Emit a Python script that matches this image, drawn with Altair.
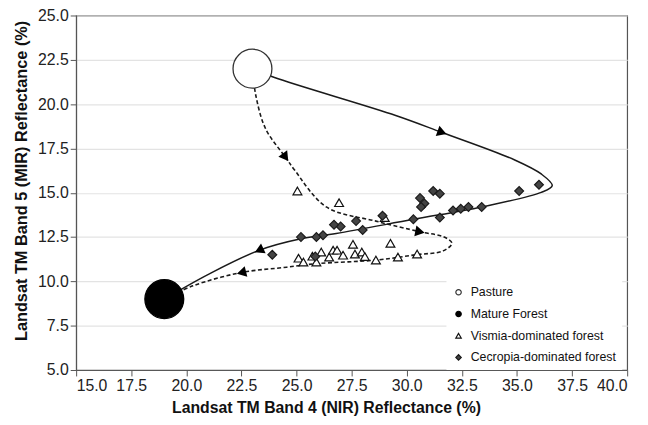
import altair as alt
import pandas as pd

# ---- data ----
series_names = ["Pasture", "Mature Forest", "Vismia-dominated forest", "Cecropia-dominated forest"]

pasture_x = [23.0]
pasture_y = [22.0]
mature_x = [19.0]
mature_y = [9.0]

vismia_x = [25.09, 25.31, 25.72, 25.90, 26.12, 26.48, 26.66, 26.84, 27.11, 27.56,
            27.65, 27.96, 28.1, 28.6, 29.26, 29.6, 30.47, 25.04, 26.93, 29.0]
vismia_y = [11.31, 11.09, 11.42, 11.09, 11.65, 11.37, 11.76, 11.76, 11.48, 12.09,
            11.54, 11.65, 11.4, 11.2, 12.15, 11.37, 11.54, 15.1, 14.44, 13.6]

cecropia_x = [36.0, 35.1, 31.2, 31.5, 30.6, 30.8, 30.65, 33.4, 32.8, 32.45, 32.1, 31.5,
              30.3, 28.9, 28.0, 27.7, 27.0, 26.7, 26.2, 25.9, 25.2, 25.85, 23.9]
cecropia_y = [15.45, 15.1, 15.1, 14.95, 14.7, 14.4, 14.2, 14.2, 14.2, 14.1, 14.0, 13.6,
              13.5, 13.7, 12.9, 13.4, 13.1, 13.2, 12.6, 12.5, 12.5, 11.4, 11.5]

# trajectory paths
solid_x = [23.0, 24.0, 29.5, 31.6, 34.9, 36.1, 36.6, 36.1, 33.4, 30.3, 26.8, 25.2, 23.3, 21.0, 19.0]
solid_y = [22.0, 21.5, 19.36, 18.4, 16.85, 16.06, 15.4, 15.02, 14.2, 13.5, 12.7, 12.4, 11.75, 10.4, 9.0]

dashed_x = [23.0, 23.15, 23.6, 24.5, 24.9, 26.35, 28.6, 30.6, 31.7, 32.05, 31.65, 30.4, 28.6,
            25.9, 24.55, 22.5, 20.3, 19.0]
dashed_y = [22.0, 20.5, 18.6, 17.0, 16.3, 14.2, 13.4, 12.8, 12.5, 12.15, 11.72, 11.5, 11.2,
            11.0, 10.8, 10.5, 9.75, 9.0]

# arrow heads on the paths
arrow_x = [31.6, 23.3, 24.5, 30.6, 22.5]
arrow_y = [18.4, 11.75, 17.0, 12.8, 10.5]
arrow_angle = [110, 245, 144, 101, 256]

x_ticks = [15.0, 17.5, 20.0, 22.5, 25.0, 27.5, 30.0, 32.5, 35.0, 37.5, 40.0]
y_ticks = [5.0, 7.5, 10.0, 12.5, 15.0, 17.5, 20.0, 22.5, 25.0]

# ---- tables ----
rows = []
for xs, ys, name in [(pasture_x, pasture_y, series_names[0]),
                     (mature_x, mature_y, series_names[1]),
                     (vismia_x, vismia_y, series_names[2]),
                     (cecropia_x, cecropia_y, series_names[3])]:
    for a, b in zip(xs, ys):
        rows.append({"x": a, "y": b, "series": name})
pts = pd.DataFrame(rows)

big = pd.DataFrame({"x": pasture_x + mature_x, "y": pasture_y + mature_y,
                    "series": series_names[:2]})

solid = pd.DataFrame({"x": solid_x, "y": solid_y, "o": range(len(solid_x))})
dashed = pd.DataFrame({"x": dashed_x, "y": dashed_y, "o": range(len(dashed_x))})
arrows = pd.DataFrame({"x": arrow_x, "y": arrow_y, "a": arrow_angle})

xscale = alt.Scale(domain=[15, 40], nice=False, zero=False)
yscale = alt.Scale(domain=[5, 25], nice=False, zero=False)

X = alt.X("x:Q", scale=xscale,
          axis=alt.Axis(values=x_ticks, format=".1f", grid=False,
                        title="Landsat TM Band 4 (NIR) Reflectance (%)",
                        titleX=253, titleAlign="center"))
Y = alt.Y("y:Q", scale=yscale,
          axis=alt.Axis(values=y_ticks, format=".1f", grid=True,
                        title="Landsat TM Band 5 (MIR) Reflectance (%)",
                        titleY=167, titleAlign="center"))

solid_line = alt.Chart(solid).mark_line(
    interpolate="catmull-rom", color="#1a1a1a", strokeWidth=1.5
).encode(x=X, y=Y, order="o:Q")

dashed_line = alt.Chart(dashed).mark_line(
    interpolate="catmull-rom", color="#1a1a1a", strokeWidth=1.6, strokeDash=[4, 2.5]
).encode(x=X, y=Y, order="o:Q")

arrow_marks = alt.Chart(arrows).mark_point(
    shape="triangle-up", filled=True, color="black", size=120, opacity=1
).encode(x=X, y=Y, angle=alt.Angle("a:Q", scale=None))

legend = alt.Legend(
    title=None, orient="none", legendX=375, legendY=268,
    labelFont="Liberation Sans", labelFontSize=12.5, labelColor="#111",
    symbolSize=30, symbolStrokeWidth=1.2, rowPadding=9,
    fillColor="white", padding=6, labelOffset=6
)

fill_scale = alt.Scale(domain=series_names, range=["white", "black", "white", "#444444"])
stroke_scale = alt.Scale(domain=series_names, range=["#333333", "black", "#111111", "#1a1a1a"])

points = alt.Chart(pts).mark_point(opacity=1, strokeWidth=1.2, size=80).encode(
    x=X, y=Y,
    shape=alt.Shape("series:N", scale=alt.Scale(domain=series_names,
                    range=["circle", "circle", "triangle-up", "diamond"]), legend=legend),
    fill=alt.Fill("series:N", scale=fill_scale, legend=legend),
    stroke=alt.Stroke("series:N", scale=stroke_scale, legend=legend),
)

big_circles = alt.Chart(big).mark_point(
    shape="circle", size=1550, opacity=1, strokeWidth=1.3
).encode(
    x=X, y=Y,
    fill=alt.Fill("series:N", scale=fill_scale, legend=legend),
    stroke=alt.Stroke("series:N", scale=stroke_scale, legend=legend),
)

chart = alt.layer(solid_line, dashed_line, arrow_marks, points, big_circles).properties(
    width=558, height=359,
    autosize=alt.AutoSizeParams(type="none"),
    padding={"left": 69, "top": 5, "right": 13, "bottom": 45},
).configure_view(
    stroke="#555555", strokeWidth=1.2
).configure_axis(
    labelFont="Liberation Sans", labelFontSize=16, labelColor="#222",
    titleFont="Liberation Sans", titleFontWeight="bold", titleColor="#111",
    domainColor="#555", tickColor="#555", tickSize=6, labelPadding=2,
    gridColor="#e3e3e3", gridWidth=1.2
).configure_axisY(
    titlePadding=8, titleFontSize=16.5
).configure_axisX(
    titlePadding=6, titleFontSize=16
)

chart.save("out.html", embed_options={"renderer": "svg", "actions": False})
